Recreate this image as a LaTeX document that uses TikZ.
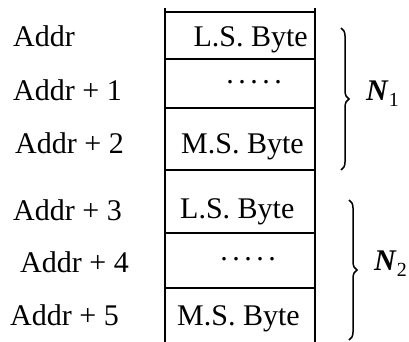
\documentclass[tikz,border=0pt]{standalone}
\usepackage{fontspec}
\setmainfont{Liberation Serif}
\usetikzlibrary{decorations.pathreplacing}
\tikzset{
	rule/.style={line width=1.3pt},
	txt/.style={font=\fontsize{30}{36}\selectfont, inner sep=0pt},
	bracket/.style={line width=1.5pt, decorate, decoration={brace, amplitude=8pt}}
}
\newcommand{\cdotrow}{.\kern4.5pt.\kern4.5pt.\kern4.5pt.\kern4.5pt.}
\newcommand{\grouplabel}[1]{\textit{\textbf{N}}\raisebox{-6pt}{\fontsize{20}{24}\selectfont #1}}

\begin{document}
\begin{tikzpicture}[x=1pt, y=-1pt]
	%%%%% START %%%%%
	\useasboundingbox (0, 0) rectangle (409, 342);

	% memory column
	\coordinate (colTL) at (165, 8);
	\coordinate (colBL) at (165, 342);
	\coordinate (colTR) at (315, 8);
	\coordinate (colBR) at (315, 342);
	\draw[rule] (colTL) -- (colBL);
	\draw[rule] (colTR) -- (colBR);
	\foreach \y in {12, 59, 108, 170, 233, 288}
		\draw[rule] (165, \y) -- (315, \y);

	% addresses
	\node[txt, anchor=base west] (addr0) at (13, 47) {Addr};
	\node[txt, anchor=base west] (addr1) at (13, 100) {Addr + 1};
	\node[txt, anchor=base west] (addr2) at (15, 153) {Addr + 2};
	\node[txt, anchor=base west] (addr3) at (13, 220) {Addr + 3};
	\node[txt, anchor=base west] (addr4) at (20, 272) {Addr + 4};
	\node[txt, anchor=base west] (addr5) at (10, 325) {Addr + 5};

	% cell contents
	\node[txt, anchor=base east] (cell0) at (308, 47) {L.S. Byte};
	\node[txt, anchor=base] (cell1) at (254, 84) {\cdotrow};
	\node[txt, anchor=base west] (cell2) at (181, 153) {M.S. Byte};
	\node[txt, anchor=base west] (cell3) at (180, 218) {L.S. Byte};
	\node[txt, anchor=base] (cell4) at (248, 260) {\cdotrow};
	\node[txt, anchor=base west] (cell5) at (177, 325) {M.S. Byte};

	% groups
	\coordinate (grpAtop) at (341, 28);
	\coordinate (grpAbot) at (341, 170);
	\draw[bracket] (grpAtop) -- (grpAbot);
	\node[txt, anchor=base west] (grpA) at (366, 100) {\grouplabel{1}};

	\coordinate (grpBtop) at (349, 200);
	\coordinate (grpBbot) at (349, 340);
	\draw[bracket] (grpBtop) -- (grpBbot);
	\node[txt, anchor=base west] (grpB) at (374, 270) {\grouplabel{2}};
	%%%%% END %%%%%
\end{tikzpicture}
\end{document}
